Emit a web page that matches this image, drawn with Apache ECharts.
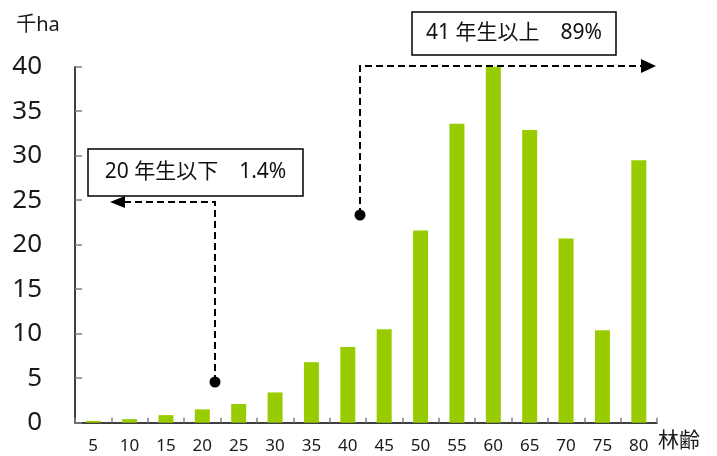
<!DOCTYPE html>
<html>
<head>
<meta charset="utf-8">
<script src="https://cdn.jsdelivr.net/npm/echarts@6/dist/echarts.min.js"></script>
<style>
html,body{margin:0;padding:0;background:#fff;}
#c{width:717px;height:456px;}
</style>
</head>
<body>
<div id="c"></div>
<script>
const categories = ['5','10','15','20','25','30','35','40','45','50','55','60','65','70','75','80'];
const areaValues = [0.2, 0.4, 0.85, 1.5, 2.1, 3.4, 6.8, 8.5, 10.5, 21.6, 33.6, 40.0, 32.9, 20.7, 10.4, 29.5];
const yTicks = {min: 0, max: 40, interval: 5};
const yUnit = '千ha';
const xUnit = '林齢';
const note1 = '20 年生以下\u30001.4%';
const note2 = '41 年生以上\u300089%';

const FONT = '"Noto Sans", "Noto Sans CJK JP", sans-serif';
const chart = echarts.init(document.getElementById('c'), null, {renderer: 'canvas'});

function dashed(points) {
  return {
    type: 'polyline',
    shape: {points: points},
    style: {stroke: '#000', lineWidth: 2, lineDash: [7, 4], fill: null},
    z: 100
  };
}
function tri(p) {
  return {type: 'polygon', shape: {points: p}, style: {fill: '#000'}, z: 100};
}
function dot(x, y) {
  return {type: 'circle', shape: {cx: x, cy: y, r: 5.5}, style: {fill: '#000'}, z: 100};
}
function box(x, y, w, h, text) {
  return [
    {type: 'rect', shape: {x: x, y: y, width: w, height: h},
     style: {fill: '#fff', stroke: '#000', lineWidth: 1.5}, z: 100},
    {type: 'text', x: x + w / 2, y: y + h / 2,
     style: {text: text, fill: '#111', font: '21px ' + FONT, textAlign: 'center', textVerticalAlign: 'middle'}, z: 101}
  ];
}

const option = {
  animation: false,
  backgroundColor: '#fff',
  grid: {left: 75, right: 60, top: 66.7, bottom: 33.3, containLabel: false},
  xAxis: {
    type: 'category',
    data: categories,
    axisLine: {show: true, lineStyle: {color: '#000', width: 1.5}},
    axisTick: {show: true, inside: true, length: 5, alignWithLabel: false, lineStyle: {color: '#808080', width: 1.5}},
    axisLabel: {color: '#1a1a1a', fontSize: 17, fontFamily: FONT, margin: 15, interval: 0},
    splitLine: {show: false}
  },
  yAxis: {
    type: 'value',
    min: yTicks.min, max: yTicks.max, interval: yTicks.interval,
    axisLine: {show: true, lineStyle: {color: '#000', width: 1.5}},
    axisTick: {show: true, inside: true, length: 7, lineStyle: {color: '#808080', width: 1.5}},
    axisLabel: {color: '#1a1a1a', fontSize: 26, fontFamily: FONT, margin: 33},
    splitLine: {show: false}
  },
  series: [{
    type: 'bar',
    data: areaValues,
    barWidth: 15,
    itemStyle: {color: '#99CC00'}
  }],
  graphic: [
    {type: 'text', x: 38, y: 25,
     style: {text: yUnit, fill: '#1a1a1a', font: '20px ' + FONT, textAlign: 'center', textVerticalAlign: 'middle'}},
    {type: 'text', x: 679, y: 441,
     style: {text: xUnit, fill: '#1a1a1a', font: '21px ' + FONT, textAlign: 'center', textVerticalAlign: 'middle'}},
    ...box(88, 149, 215, 47, note1),
    ...box(412, 12, 204, 43, note2),
    dashed([[215, 382], [215, 202], [124, 202]]),
    tri([[110, 202], [125, 196], [125, 208]]),
    dot(215, 382),
    dashed([[360, 215], [360, 66], [642, 66]]),
    tri([[656, 66], [641, 59], [641, 73]]),
    dot(360, 215)
  ]
};
chart.setOption(option);
</script>
</body>
</html>
